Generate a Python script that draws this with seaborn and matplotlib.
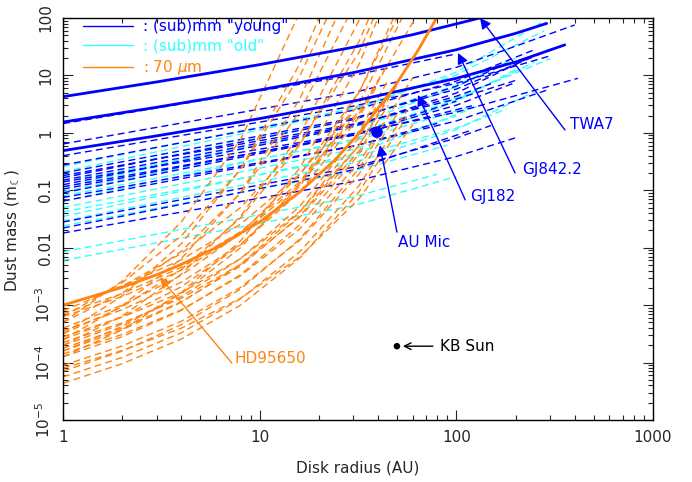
import numpy as np
import pandas as pd
import matplotlib
matplotlib.use("Agg")
import matplotlib.pyplot as plt
from matplotlib.lines import Line2D
import seaborn as sns

# -----------------------------
# Colours
# -----------------------------
BLUE = "#0000ff"
CYAN = "#33ffff"
ORANGE = "#ff8412"

# -----------------------------
# Thick curves (named objects): radius (AU), dust mass (lunar masses)
# -----------------------------
twa7_r = [1, 3, 10, 30, 60, 132]
twa7_m = [4.26, 7.7, 15.4, 31.0, 51.2, 100.0]

gj842_r = [1, 3, 10, 30, 100, 200, 288]
gj842_m = [1.54, 2.79, 5.57, 11.2, 28.0, 53.9, 80.4]

gj182_r = [1, 3, 10, 30, 100, 200, 356]
gj182_m = [0.49, 0.887, 1.77, 3.57, 8.9, 17.1, 34.0]

hd95650_r = [1, 2, 3, 4, 6, 10, 16, 24, 32, 48, 64, 80]
hd95650_logm = [-3.0, -2.69, -2.47, -2.29, -2.0, -1.55, -1.03, -0.48, -0.01, 0.78, 1.44, 2.02]

# -----------------------------
# (sub)mm "young" dashed curves: mass at 1, 30 and 100 AU, then end point
# -----------------------------
young_m1 = [1.45, 0.64, 0.40, 0.275, 0.20, 0.18, 0.165, 0.15, 0.14, 0.125,
            0.115, 0.105, 0.09, 0.075, 0.065, 0.028, 0.022, 0.018]
young_m30 = [10.05, 5.04, 2.92, 2.48, 1.8, 1.42, 1.70, 1.35, 0.97, 1.29,
             0.906, 0.945, 0.927, 0.59, 0.585, 0.252, 0.227, 0.142]
young_m100 = [np.nan, 13.8, 7.28, 7.95, 5.78, 3.87, 6.5, 4.34, 2.29, 4.93,
              np.nan, 3.03, np.nan, 1.61, np.nan, 0.81, np.nan, 0.387]
young_rend = [100, 400, 300, 250, 300, 200, 180, 150, 415, 250,
              120, 200, 100, 300, 80, 150, 120, 200]
young_mend = [23.7, 75.5, 21.9, 28.1, 28.0, 8.17, 16.1, 7.17, 8.9, 22.5,
              2.96, 7.54, 3.55, 5.8, 1.46, 1.34, 1.12, 0.82]

# -----------------------------
# (sub)mm "old" dashed curves
# -----------------------------
old_m1 = [0.26, 0.21, 0.17, 0.14, 0.115, 0.095, 0.08, 0.065, 0.05, 0.042,
          0.035, 0.029, 0.024, 0.0085, 0.006]
old_m30 = [2.68, 2.5, 1.75, 1.26, 1.37, 0.98, 0.72, 0.77, 0.515, 0.378,
           0.417, 0.30, 0.216, 0.0765, 0.054]
old_m100 = [10.2, 11.4, 6.7, 4.05, 6.27, 3.74, np.nan, 3.54, np.nan, 1.21,
            np.nan, 1.14, np.nan, np.nan, np.nan]
old_rend = [280, 270, 200, 300, 150, 250, 120, 200, 100, 180,
            130, 250, 90, 80, 100]
old_mend = [60.0, 82.5, 19.9, 19.6, 12.7, 17.1, 2.87, 12.7, 1.97, 2.59,
            2.96, 5.2, 0.61, 0.19, 0.173]

# -----------------------------
# 70 micron dashed curves: log10(mass) at fixed radii, then end point
# -----------------------------
far_r = [1, 2, 4, 8, 16, 32, 64]
far_logm = [
    [-3.3, -2.58, -1.55, -0.12],
    [-3.5, -2.84, -1.93, -0.63, 1.2],
    [-3.2, -2.61, -1.79, -0.64, 0.99],
    [-3.6, -3.01, -2.19, -1.04, 0.59],
    [-3.3, -2.79, -2.06, -1.05, 0.37],
    [-3.7, -3.19, -2.46, -1.45, -0.03],
    [-3.1, -2.67, -2.1, -1.3, -0.18, 1.4],
    [-3.5, -3.03, -2.38, -1.48, -0.21, 1.59],
    [-3.9, -3.43, -2.78, -1.88, -0.61, 1.19],
    [-3.4, -3.0, -2.48, -1.75, -0.73, 0.71],
    [-3.8, -3.37, -2.8, -2.0, -0.88, 0.70],
    [-3.2, -2.85, -2.39, -1.77, -0.9, 0.33],
    [-3.6, -3.2, -2.68, -1.95, -0.93, 0.51],
    [-3.7, -3.33, -2.85, -2.19, -1.28, 0.02],
    [-3.75, -3.40, -2.94, -2.32, -1.45, -0.22],
    [-3.8, -3.43, -2.95, -2.29, -1.38, -0.08],
    [-3.85, -3.51, -3.08, -2.49, -1.67, -0.52],
    [-3.65, -3.31, -2.88, -2.29, -1.47, -0.32],
    [-3.9, -3.55, -3.09, -2.47, -1.6, -0.37],
    [-4.05, -3.71, -3.28, -2.69, -1.87, -0.72],
    [-4.15, -3.8, -3.34, -2.72, -1.85, -0.62],
    [-4.25, -3.91, -3.48, -2.89, -2.07, -0.92],
    [-4.36, -4.02, -3.59, -3.0, -2.18, -1.03],
    [-4.1, -3.79, -3.4, -2.88, -2.16, -1.15],
    [-3.55, -3.21, -2.78, -2.19, -1.37, -0.22],
    [-3.45, -3.08, -2.6, -1.94, -1.03, 0.27],
    [-3.15, -2.8, -2.34, -1.72, -0.85, 0.38],
    [-3.02, -2.67, -2.21, -1.59, -0.72],
]
far_rend = [15.5, 20, 22, 24.5, 28, 32.5, 38, 36, 40, 50, 48, 62, 53,
            45, 50, 40, 60, 45, 35, 50, 40, 56, 56, 60, 50, 40, 45, 30]
far_logmend = [2.0, 2.0, 2.0, 2.0, 2.0, 2.0, 2.0, 2.0, 2.0, 2.0, 2.0, 2.0, 2.0,
               0.92, 0.89, 0.51, 0.96, 0.48, -0.15, 0.33, -0.07, 0.39, 0.28,
               0.14, 0.83, 0.85, 1.2, 0.4]

# markers
aumic_r = [39.5]
aumic_m = [1.03]
kbsun_r = [49.9]
kbsun_m = [1.93e-4]

# -----------------------------
# Build long tables
# -----------------------------
def submm_table(m1, m30, m100, rend, mend):
    rows = []
    for i in range(len(m1)):
        rows.append((i, 1.0, m1[i]))
        rows.append((i, 30.0, m30[i]))
        if not np.isnan(m100[i]):
            rows.append((i, 100.0, m100[i]))
        rows.append((i, rend[i], mend[i]))
    return pd.DataFrame(rows, columns=["line", "r", "m"])

young_df = submm_table(young_m1, young_m30, young_m100, young_rend, young_mend)
old_df = submm_table(old_m1, old_m30, old_m100, old_rend, old_mend)

rows = []
for i, vals in enumerate(far_logm):
    for r, v in zip(far_r, vals):
        rows.append((i, r, 10 ** v))
    rows.append((i, far_rend[i], 10 ** far_logmend[i]))
far_df = pd.DataFrame(rows, columns=["line", "r", "m"])

thick_df = pd.concat([
    pd.DataFrame({"line": "TWA7", "r": twa7_r, "m": twa7_m}),
    pd.DataFrame({"line": "GJ842.2", "r": gj842_r, "m": gj842_m}),
    pd.DataFrame({"line": "GJ182", "r": gj182_r, "m": gj182_m}),
])
hd_df = pd.DataFrame({"r": hd95650_r, "m": 10 ** np.array(hd95650_logm)})

# -----------------------------
# Figure
# -----------------------------
sns.set_style("ticks")
plt.rcParams["font.family"] = ["DejaVu Sans"]

fig, ax = plt.subplots(figsize=(6.92, 4.82), dpi=100)
fig.subplots_adjust(left=0.091, right=0.9436, bottom=0.1286, top=0.9627)
ax.set_xscale("log")
ax.set_yscale("log")

dash = (0, (5, 3))
sns.lineplot(data=old_df, x="r", y="m", units="line", estimator=None, sort=False,
             color=CYAN, lw=1, linestyle=dash, ax=ax, legend=False)
sns.lineplot(data=young_df, x="r", y="m", units="line", estimator=None, sort=False,
             color=BLUE, lw=1, linestyle=dash, ax=ax, legend=False)
sns.lineplot(data=far_df, x="r", y="m", units="line", estimator=None, sort=False,
             color=ORANGE, lw=1, linestyle=dash, ax=ax, legend=False)
sns.lineplot(data=thick_df, x="r", y="m", units="line", estimator=None, sort=False,
             color=BLUE, lw=2, ax=ax, legend=False)
sns.lineplot(data=hd_df, x="r", y="m", estimator=None, sort=False,
             color=ORANGE, lw=2, ax=ax, legend=False)

sns.scatterplot(x=aumic_r, y=aumic_m, color=BLUE, s=70, edgecolor="none", ax=ax, zorder=5)
sns.scatterplot(x=kbsun_r, y=kbsun_m, color="black", s=22, edgecolor="none", ax=ax, zorder=5)

ax.set_xlim(1, 1000)
ax.set_ylim(1e-5, 100)

# -----------------------------
# Annotations
# -----------------------------
def arrow(tip, start, color, style="-|>"):
    ax.annotate("", xy=tip, xytext=start,
                arrowprops=dict(arrowstyle=style, color=color, lw=1,
                                mutation_scale=16, shrinkA=0, shrinkB=0))

arrow((132, 100), (357, 1.12), BLUE)
ax.text(378, 1.37, "TWA7", color=BLUE, fontsize=11, ha="left", va="center")
arrow((102, 24.6), (199, 0.2), BLUE)
ax.text(216, 0.234, "GJ842.2", color=BLUE, fontsize=11, ha="left", va="center")
arrow((63.8, 4.56), (111, 0.068), BLUE)
ax.text(117, 0.079, "GJ182", color=BLUE, fontsize=11, ha="left", va="center")
arrow((40.9, 0.61), (49.9, 0.0187), BLUE)
ax.text(50.5, 0.0125, "AU Mic", color=BLUE, fontsize=11, ha="left", va="center")
arrow((3.11, 3.08e-3), (7.23, 9.8e-5), ORANGE)
ax.text(7.49, 1.19e-4, "HD95650", color=ORANGE, fontsize=11, ha="left", va="center")
ax.annotate("", xy=(53.5, 1.93e-4), xytext=(76, 1.93e-4),
            arrowprops=dict(arrowstyle="->", color="black", lw=1,
                            mutation_scale=12, shrinkA=0, shrinkB=0))
ax.text(82.6, 1.93e-4, "KB Sun", color="black", fontsize=11, ha="left", va="center")

# -----------------------------
# Legend
# -----------------------------
handles = [Line2D([], [], color=BLUE, lw=1),
           Line2D([], [], color=CYAN, lw=1),
           Line2D([], [], color=ORANGE, lw=1)]
labels = [': (sub)mm "young"', ': (sub)mm "old"', r": 70 $\mu$m"]
ax.legend(handles, labels, loc="upper left", bbox_to_anchor=(0.034, 0.997),
          frameon=False, fontsize=11, handlelength=3.3, handletextpad=0.6,
          labelspacing=0.3, borderpad=0, borderaxespad=0, labelcolor="linecolor")

# -----------------------------
# Axes styling
# -----------------------------
ax.set_yticks([1e-5, 1e-4, 1e-3, 0.01, 0.1, 1, 10, 100])
ax.set_yticklabels([r"10$^{-5}$", r"10$^{-4}$", r"10$^{-3}$", "0.01", "0.1", "1", "10", "100"])
ax.set_xticks([1, 10, 100, 1000])
ax.set_xticklabels(["1", "10", "100", "1000"])
ax.tick_params(which="both", direction="in", top=True, right=True, labelsize=11, pad=7)
ax.tick_params(which="major", length=7, width=0.8)
ax.tick_params(which="minor", length=3.5, width=0.8)
ax.tick_params(axis="y", labelrotation=90)
for lab in ax.get_yticklabels():
    lab.set_va("center")
for sp in ax.spines.values():
    sp.set_linewidth(1)
    sp.set_color("black")

ax.set_xlabel("Disk radius (AU)", fontsize=11)
ax.set_ylabel("Dust mass (m$_{☾}$)", fontsize=11)
ax.xaxis.set_label_coords(0.5, -0.1)
ax.yaxis.set_label_coords(-0.07, 0.47)

fig.savefig("out.png", dpi=100)
